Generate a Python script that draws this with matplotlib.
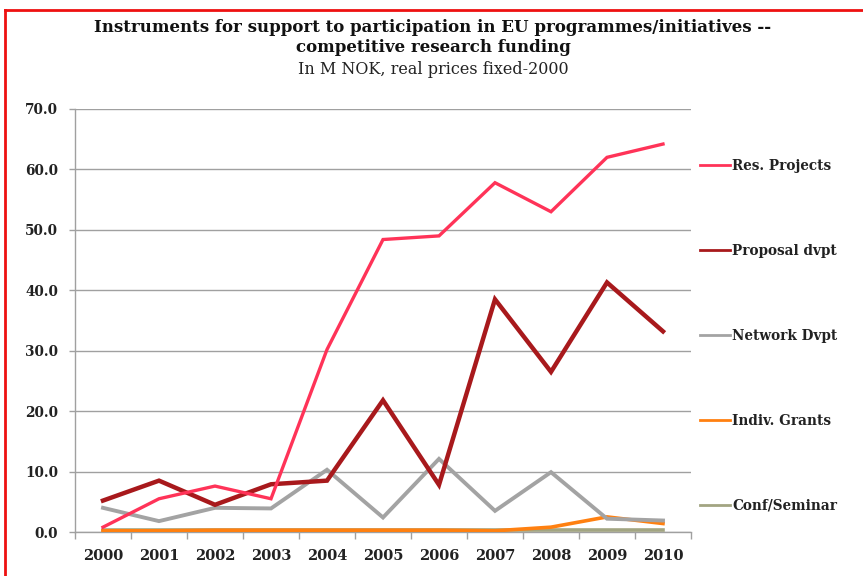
import matplotlib
matplotlib.use("Agg")
import matplotlib.pyplot as plt
from matplotlib.lines import Line2D
import numpy as np

years = ["2000", "2001", "2002", "2003", "2004", "2005", "2006", "2007", "2008", "2009", "2010"]
res_projects = [0.8, 5.5, 7.6, 5.5, 30.2, 48.4, 49.0, 57.8, 53.0, 62.0, 64.2]
proposal_dvpt = [5.2, 8.5, 4.5, 7.9, 8.5, 21.8, 7.8, 38.5, 26.5, 41.3, 33.2]
network_dvpt = [4.0, 1.8, 4.0, 3.9, 10.3, 2.4, 12.1, 3.5, 9.9, 2.2, 1.9]
indiv_grants = [0.2, 0.2, 0.3, 0.3, 0.3, 0.3, 0.3, 0.2, 0.8, 2.5, 1.4]
conf_seminar = [0.3, 0.3, 0.3, 0.3, 0.3, 0.3, 0.3, 0.3, 0.3, 0.3, 0.3]
y_ticks = [0, 10, 20, 30, 40, 50, 60, 70]

series = [
    ("Res. Projects", res_projects, "#ff3358", 2.4),
    ("Proposal dvpt", proposal_dvpt, "#a8191c", 3.2),
    ("Network Dvpt", network_dvpt, "#a3a3a3", 2.8),
    ("Indiv. Grants", indiv_grants, "#ff8010", 2.6),
    ("Conf/Seminar", conf_seminar, "#a2a582", 2.6),
]

fig = plt.figure(figsize=(8.63, 5.76), dpi=100)
ax = fig.add_axes([75/863, 44/576, 616/863, 423/576])

x = np.arange(len(years))
order = [4, 3, 2, 1, 0]
for i in order:
    name, vals, col, lw = series[i]
    ax.plot(x, vals, color=col, lw=lw, solid_joinstyle="miter", zorder=3 + (4 - i) * 0.1)

ax.set_xlim(-0.5, len(years) - 0.5)
ax.set_ylim(0, 70)
ax.set_yticks(y_ticks)
ax.set_yticklabels([f"{v:.1f}" for v in y_ticks])
ax.set_xticks(x)
ax.set_xticklabels(years)
ax.set_xticks(np.arange(-0.5, len(years), 1.0), minor=True)

font = dict(family="DejaVu Serif", weight="bold")
for lab in ax.get_yticklabels():
    lab.set_fontfamily("DejaVu Serif"); lab.set_fontweight("bold"); lab.set_fontsize(9.8); lab.set_color("#222222")
for lab in ax.get_xticklabels():
    lab.set_fontfamily("DejaVu Serif"); lab.set_fontweight("bold"); lab.set_fontsize(10.5); lab.set_color("#222222")

ax.tick_params(axis="x", which="major", length=0, pad=12)
ax.tick_params(axis="x", which="minor", length=5, color="#a0a0a0", width=1)
ax.tick_params(axis="y", length=4, color="#a0a0a0", width=1, pad=8)
ax.grid(axis="y", color="#a0a0a0", lw=1, zorder=1)
ax.set_axisbelow(True)
for s in ["top", "right"]:
    ax.spines[s].set_visible(False)
for s in ["left", "bottom"]:
    ax.spines[s].set_color("#a0a0a0")
    ax.spines[s].set_linewidth(1)

handles = [Line2D([0], [0], color=c, lw=2) for _, _, c, _ in series]
labels = [n for n, _, _, _ in series]
leg = fig.legend(handles, labels, loc="upper left", bbox_to_anchor=(688/863, 1 - 147/576),
                 frameon=False, handlelength=2.2, handletextpad=0.15, labelspacing=5.2,
                 prop=dict(family="DejaVu Serif", weight="bold", size=9.8))
for t in leg.get_texts():
    t.set_color("#222222")

fig.text(433/863, 1 - 28/576, "Instruments for support to participation in EU programmes/initiatives --",
         ha="center", va="center", fontsize=12, color="#111111", **font)
fig.text(433/863, 1 - 48/576, "competitive research funding",
         ha="center", va="center", fontsize=12, color="#111111", **font)
fig.text(433/863, 1 - 70/576, "In M NOK, real prices fixed-2000",
         ha="center", va="center", fontsize=11.5, color="#222222", family="DejaVu Serif")

fig.add_artist(Line2D([5/863, 5/863], [0, 1 - 10/576], color="#ee1111", lw=2, transform=fig.transFigure))
fig.add_artist(Line2D([5/863, 1], [1 - 10/576, 1 - 10/576], color="#ee1111", lw=2, transform=fig.transFigure))

fig.savefig("out.png", dpi=100)
